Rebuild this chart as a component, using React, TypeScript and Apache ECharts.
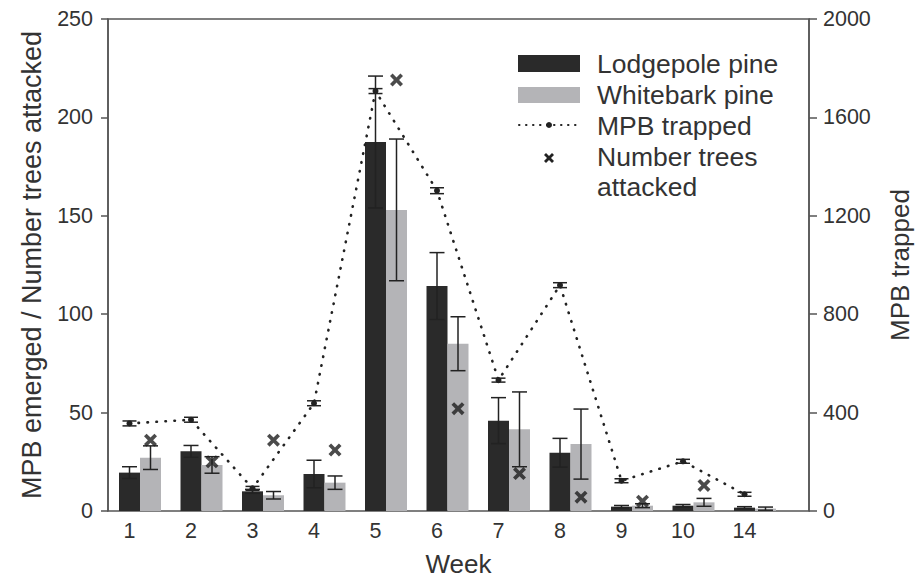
import React, { useEffect, useRef } from "react";
import * as echarts from "echarts";

const weeks = ["1", "2", "3", "4", "5", "6", "7", "8", "9", "10", "14"];
const lodgepole = [19.5, 30.3, 10, 18.8, 187.5, 114.3, 45.9, 29.6, 2.2, 2.7, 1.7];
const lodgepoleErr = [3, 3, 1, 7, 33.5, 17, 11.7, 7.3, 0.6, 0.6, 0.5];
const whitebark = [27.1, 23.4, 8, 14.4, 153, 85, 41.5, 34, 2.7, 4.4, 1.2];
const whitebarkErr = [6, 4.2, 1.9, 3.4, 36, 13.7, 19, 17.8, 1, 2, 0.8];
const treesAttacked: (number | null)[] = [36, 25, 36, 31, 219, 52, 19, 7, 5, 13, null];
const mpbTrapped = [356, 371, 92, 438, 1707, 1302, 532, 918, 123, 202, 68];
const mpbErr = [10, 10, 8, 10, 10, 12, 8, 10, 8, 8, 8];

const leftTicks = { min: 0, max: 250, interval: 50 };
const rightTicks = { min: 0, max: 2000, interval: 400 };

const FONT = "'Liberation Sans', Arial, Helvetica, sans-serif";
const TXT = "#333";
const DARK = "#2a2a2a";
const GRAY = "#b4b4b7";
const AXIS = "#555";

const X_PATH =
  "path://M0,2 L2,0 L5,3 L8,0 L10,2 L7,5 L10,8 L8,10 L5,7 L2,10 L0,8 L3,5 Z";

function errorRenderer(offset: number, cap: number) {
  return (params: any, api: any) => {
    const i = api.value(0);
    const v = api.value(1);
    const e = api.value(2);
    const hi = api.coord([i, v + e]);
    const lo = api.coord([i, Math.max(0, v - e)]);
    const cx = hi[0] + offset;
    const st = { stroke: "#222", lineWidth: 1.5 };
    return {
      type: "group",
      children: [
        { type: "line", shape: { x1: cx, y1: hi[1], x2: cx, y2: lo[1] }, style: st },
        { type: "line", shape: { x1: cx - cap, y1: hi[1], x2: cx + cap, y2: hi[1] }, style: st },
        { type: "line", shape: { x1: cx - cap, y1: lo[1], x2: cx + cap, y2: lo[1] }, style: st },
      ],
    };
  };
}

export default function App() {
  const ref = useRef<HTMLDivElement>(null);
  useEffect(() => {
    if (!ref.current) return;
    const chart = echarts.init(ref.current, null, { renderer: "svg" });
    const labelStyle = { fontSize: 21.5, color: TXT, fontFamily: FONT };
    const nameStyle = { fontSize: 26, color: TXT, fontFamily: FONT };
    const legendText = (text: string, y: number) => ({
      type: "text",
      x: 597,
      y,
      style: { text, fontSize: 26.5, fill: TXT, fontFamily: FONT, verticalAlign: "middle", align: "left" },
    });
    const plain = (v: number) => String(v);
    const gridBase = { top: 19, bottom: 67, containLabel: false, outerBoundsMode: "none" };
    const option: any = {
      animation: false,
      grid: [
        { ...gridBase, left: 109.25, right: 130.25 },
        { ...gridBase, left: 98.75, right: 140.75 },
        {
          ...gridBase,
          left: 108,
          right: 107,
          show: true,
          borderColor: AXIS,
          borderWidth: 1.5,
          backgroundColor: "transparent",
        },
      ],
      xAxis: [
        { type: "category", gridIndex: 0, data: weeks, show: false },
        {
          type: "category",
          gridIndex: 1,
          data: weeks,
          axisLine: { show: false },
          axisTick: { show: false },
          axisLabel: { ...labelStyle, margin: 9 },
        },
        {
          type: "value",
          gridIndex: 2,
          min: 0,
          max: 1,
          axisLine: { show: false },
          axisTick: { show: false },
          axisLabel: { show: false },
          splitLine: { show: false },
          name: "Week",
          nameLocation: "middle",
          nameGap: 40,
          nameTextStyle: nameStyle,
        },
      ],
      yAxis: [
        { type: "value", gridIndex: 0, min: leftTicks.min, max: leftTicks.max, show: false },
        { type: "value", gridIndex: 1, min: rightTicks.min, max: rightTicks.max, show: false },
        {
          type: "value",
          gridIndex: 2,
          position: "left",
          ...leftTicks,
          axisLine: { show: true, lineStyle: { color: AXIS, width: 1.5 } },
          axisTick: { show: true, inside: false, length: 7, lineStyle: { color: AXIS, width: 1.5 } },
          axisLabel: { ...labelStyle, margin: 15, formatter: plain },
          splitLine: { show: false },
          name: "MPB emerged / Number trees attacked",
          nameLocation: "middle",
          nameRotate: 90,
          nameGap: 63,
          nameTextStyle: { ...nameStyle, fontSize: 27 },
        },
        {
          type: "value",
          gridIndex: 2,
          position: "right",
          ...rightTicks,
          axisLine: { show: true, lineStyle: { color: AXIS, width: 1.5 } },
          axisTick: { show: true, inside: false, length: 8, lineStyle: { color: AXIS, width: 1.5 } },
          axisLabel: { ...labelStyle, margin: 14, formatter: plain },
          splitLine: { show: false },
          name: "MPB trapped",
          nameLocation: "middle",
          nameRotate: 90,
          nameGap: 78,
          nameTextStyle: nameStyle,
        },
      ],
      series: [
        {
          name: "Lodgepole pine",
          type: "bar",
          xAxisIndex: 0,
          yAxisIndex: 0,
          data: lodgepole,
          barWidth: 21,
          barGap: "0%",
          itemStyle: { color: DARK },
        },
        {
          name: "Whitebark pine",
          type: "bar",
          xAxisIndex: 0,
          yAxisIndex: 0,
          data: whitebark,
          barWidth: 21,
          barGap: "0%",
          itemStyle: { color: GRAY },
        },
        {
          type: "custom",
          xAxisIndex: 0,
          yAxisIndex: 0,
          renderItem: errorRenderer(-10.5, 7.5),
          data: lodgepole.map((v, i) => [i, v, lodgepoleErr[i]]),
          encode: { x: 0, y: 1 },
          z: 5,
        },
        {
          type: "custom",
          xAxisIndex: 0,
          yAxisIndex: 0,
          renderItem: errorRenderer(10.5, 7.5),
          data: whitebark.map((v, i) => [i, v, whitebarkErr[i]]),
          encode: { x: 0, y: 1 },
          z: 5,
        },
        {
          name: "MPB trapped",
          type: "line",
          xAxisIndex: 1,
          yAxisIndex: 1,
          data: mpbTrapped,
          symbol: "circle",
          symbolSize: 6,
          showSymbol: true,
          lineStyle: { color: "#222", width: 2.6, type: [0.5, 8.5], cap: "round" },
          itemStyle: { color: "#222" },
          z: 6,
        },
        {
          type: "custom",
          xAxisIndex: 1,
          yAxisIndex: 1,
          renderItem: errorRenderer(0, 7),
          data: mpbTrapped.map((v, i) => [i, v, mpbErr[i]]),
          encode: { x: 0, y: 1 },
          z: 7,
        },
        {
          name: "Number trees attacked",
          type: "scatter",
          xAxisIndex: 0,
          yAxisIndex: 0,
          data: treesAttacked,
          symbol: X_PATH,
          symbolSize: 13,
          symbolOffset: [10.5, 0],
          itemStyle: { color: "#1e1e1e" },
          z: 8,
        },
      ],
      graphic: [
        { type: "rect", shape: { x: 518, y: 55, width: 62, height: 17 }, style: { fill: DARK } },
        { type: "rect", shape: { x: 518, y: 87, width: 62, height: 16 }, style: { fill: GRAY } },
        {
          type: "line",
          shape: { x1: 519, y1: 125, x2: 579, y2: 125 },
          style: { stroke: "#222", lineWidth: 2, lineDash: [0.5, 6.5], lineCap: "round" },
        },
        { type: "circle", shape: { cx: 549, cy: 125, r: 3 }, style: { fill: "#222" } },
        {
          type: "line",
          shape: { x1: 545, y1: 154, x2: 553, y2: 162 },
          style: { stroke: "#222", lineWidth: 2.8 },
        },
        {
          type: "line",
          shape: { x1: 553, y1: 154, x2: 545, y2: 162 },
          style: { stroke: "#222", lineWidth: 2.8 },
        },
        legendText("Lodgepole pine", 64),
        legendText("Whitebark pine", 95),
        legendText("MPB trapped", 126),
        legendText("Number trees", 157),
        legendText("attacked", 187),
      ],
    };
    chart.setOption(option);
    return () => chart.dispose();
  }, []);
  return (
    <div
      ref={ref}
      style={{ position: "fixed", left: 0, top: 0, width: 916, height: 578, background: "#fff" }}
    />
  );
}
